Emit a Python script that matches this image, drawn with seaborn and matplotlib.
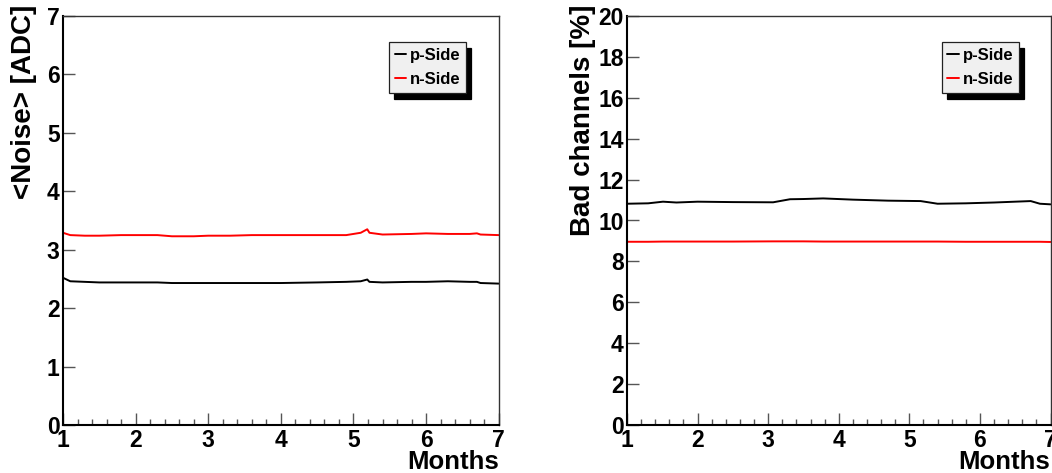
import numpy as np
import pandas as pd
import matplotlib
matplotlib.use("Agg")
import matplotlib.pyplot as plt
import seaborn as sns
from matplotlib.ticker import MultipleLocator

# ---- data ----
months_noise = [1.0, 1.1, 1.3, 1.5, 1.8, 2.0, 2.3, 2.5, 2.8, 3.0, 3.3, 3.6,
                4.0, 4.5, 4.9, 5.1, 5.19, 5.22, 5.4, 5.8, 6.0, 6.3, 6.6,
                6.7, 6.75, 7.0]
noise_p = [2.52, 2.46, 2.45, 2.44, 2.44, 2.44, 2.44, 2.43, 2.43, 2.43, 2.43, 2.43,
           2.43, 2.44, 2.45, 2.46, 2.49, 2.45, 2.44, 2.45, 2.45, 2.46, 2.45,
           2.45, 2.43, 2.42]
noise_n = [3.29, 3.25, 3.24, 3.24, 3.25, 3.25, 3.25, 3.23, 3.23, 3.24, 3.24, 3.25,
           3.25, 3.25, 3.25, 3.29, 3.35, 3.29, 3.26, 3.27, 3.28, 3.27, 3.27,
           3.28, 3.26, 3.25]

months_bad = [1.0, 1.3, 1.51, 1.7, 2.0, 2.5, 3.07, 3.31, 3.5, 3.78, 4.2, 4.7,
              5.16, 5.4, 5.8, 6.2, 6.72, 6.85, 7.0]
bad_p = [10.82, 10.84, 10.92, 10.88, 10.92, 10.90, 10.89, 11.04, 11.05, 11.08, 11.02, 10.97,
         10.95, 10.82, 10.84, 10.88, 10.95, 10.82, 10.79]
bad_n = [8.96, 8.96, 8.97, 8.97, 8.97, 8.97, 8.98, 8.98, 8.98, 8.97, 8.97, 8.97,
         8.97, 8.97, 8.96, 8.96, 8.96, 8.96, 8.95]

series_labels = ["p-Side", "n-Side"]
ylabels = ["<Noise> [ADC]", "Bad channels [%]"]
xlabel = "Months"

# ---- style ----
sns.set_style("ticks")
plt.rcParams['font.family'] = ['Liberation Sans', 'DejaVu Sans']
plt.rcParams['font.weight'] = 'bold'
plt.rcParams['axes.labelweight'] = 'bold'
plt.rcParams['text.color'] = 'black'
plt.rcParams['axes.labelcolor'] = 'black'
plt.rcParams['xtick.labelcolor'] = 'black'
plt.rcParams['ytick.labelcolor'] = 'black'

fig = plt.figure(figsize=(10.52, 4.73), dpi=100)
ax1 = fig.add_axes([63/1052, 48/473, 435.7/1052, 409/473])
ax2 = fig.add_axes([627/1052, 48/473, 423.5/1052, 409/473])

df_noise = pd.DataFrame({"month": months_noise, "p": noise_p, "n": noise_n})
df_bad = pd.DataFrame({"month": months_bad, "p": bad_p, "n": bad_n})

for ax, df, ylab, ymax, ystep in [(ax1, df_noise, ylabels[0], 7, 1),
                                  (ax2, df_bad, ylabels[1], 20, 2)]:
    sns.lineplot(data=df, x="month", y="p", ax=ax, color="black", lw=1.4,
                 label=series_labels[0])
    sns.lineplot(data=df, x="month", y="n", ax=ax, color="#ff0000", lw=1.4,
                 label=series_labels[1])
    ax.set_xlim(1, 7)
    ax.set_ylim(0, ymax)
    ax.xaxis.set_major_locator(MultipleLocator(1))
    ax.xaxis.set_minor_locator(MultipleLocator(0.2))
    ax.yaxis.set_major_locator(MultipleLocator(ystep))
    ax.tick_params(axis='both', which='major', direction='in', labelsize=16.5,
                   length=8.5, width=1, color='#555555', labelcolor='black')
    ax.tick_params(axis='x', which='major', pad=3)
    ax.tick_params(axis='y', which='major', pad=2.5)
    ax.tick_params(axis='x', which='minor', direction='in', length=4.5,
                   width=1, color='#555555')
    for lbl in ax.get_xticklabels() + ax.get_yticklabels():
        lbl.set_fontweight('bold')
    for s in ['left', 'bottom']:
        ax.spines[s].set_linewidth(1.5)
        ax.spines[s].set_color('black')
    for s in ['top', 'right']:
        ax.spines[s].set_visible(True)
        ax.spines[s].set_linewidth(1.0)
        ax.spines[s].set_color('#333333')
    ax.set_xlabel(xlabel, fontsize=18.5, fontweight='bold', loc='right')
    ax.set_ylabel(ylab, fontsize=20, fontweight='bold', loc='top')
    ax.xaxis.set_label_coords(1.0, -0.06)
    leg = ax.legend(loc='upper left', frameon=True, fancybox=False,
                    shadow={'color': 'black', 'alpha': 1, 'ox': 3.8, 'oy': -4.3},
                    facecolor='#f0f0f0', edgecolor='#222222', framealpha=1,
                    handlelength=0.7, handletextpad=0.2, borderpad=0.35,
                    labelspacing=0.55, borderaxespad=0, handleheight=0.7,
                    prop={'size': 12, 'weight': 'bold'})
    leg.get_frame().set_linewidth(0.9)

ax1.legend_.set_bbox_to_anchor((0.748, 0.936), transform=ax1.transAxes)
ax2.legend_.set_bbox_to_anchor((0.743, 0.936), transform=ax2.transAxes)
ax1.yaxis.set_label_coords(-0.06, 1.027)
ax2.yaxis.set_label_coords(-0.074, 1.027)

fig.savefig("out.png", dpi=100)
